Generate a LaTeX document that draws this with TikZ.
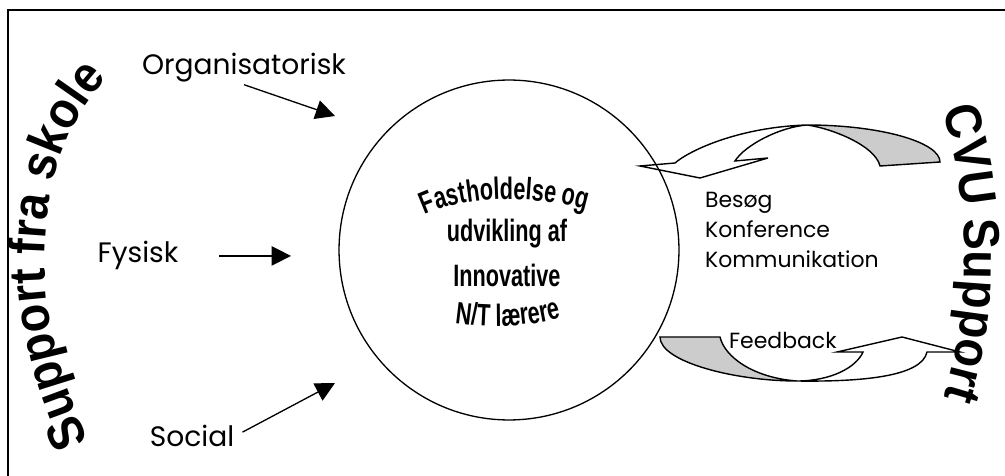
\documentclass[tikz,border=0pt]{standalone}
\usepackage{fontspec}
\setmainfont{Poppins}
\newfontfamily\arialfam[FakeStretch=0.92]{Liberation Sans}
\newfontfamily\narrowfam[FakeStretch=0.7]{Liberation Sans}
\usetikzlibrary{arrows.meta}
\usetikzlibrary{decorations.text}
\definecolor{ribbongrey}{RGB}{204,204,204}
\newcommand{\archfont}{\arialfam\bfseries\fontsize{29}{34}\selectfont}
\newcommand{\warpfont}{\narrowfam\bfseries\fontsize{17.6}{21}\selectfont}
\tikzset{
	labelstyle/.style={font=\fontsize{16}{19}\selectfont, inner sep=1pt},
	smalllabel/.style={font=\fontsize{12.5}{15}\selectfont, inner sep=1pt},
	corestyle/.style={circle, draw=black, line width=0.75pt, minimum size=6.8cm},
	innerline/.style={font=\warpfont, inner sep=0pt},
	pusharrow/.style={-{Triangle[length=11pt,width=11pt]}, line width=0.75pt},
	ribbon/.style={draw=black, line width=0.8pt, line join=miter}
}

\begin{document}
\begin{tikzpicture}[x=0.02cm, y=-0.02cm]
		\useasboundingbox (0,0) rectangle (1005,476);
		\draw[line width=0.7pt] (8,476) -- (8,10) -- (1005,10);
		% curved support texts
		\path[decorate, decoration={text along path, text align=left,
			text={|\archfont|Support fra skole}}]
			(89,441) .. controls (55,365) and (42,305) .. (45,246) .. controls (48,166) and (72,110) .. (120,66);
		\path[decorate, decoration={text along path, text align=left,
			text={|\archfont|CVU Support}}]
			(942,110) .. controls (974,210) and (974,330) .. (930,434);
		% upper ribbon
		\filldraw[ribbon, fill=ribbongrey] (807,125) .. controls (880,125) and (940,142) .. (940,162)
			-- (880,166) .. controls (875,145) and (830,128) .. (807,125) -- cycle;
		\filldraw[ribbon, fill=white] (675,163) .. controls (690,150) and (740,127) .. (807,125)
			.. controls (780,127) and (745,145) .. (735,161) -- (768,158) -- (700,178) -- (640,166) -- cycle;
		% lower ribbon
		\filldraw[ribbon, fill=ribbongrey] (660,337) -- (720,337) .. controls (725,358) and (755,378) .. (797,381)
			.. controls (735,381) and (660,362) .. (660,337) -- cycle;
		\filldraw[ribbon, fill=white] (797,381) .. controls (870,382) and (922,375) .. (927,352)
			-- (960,352) -- (902,337) -- (837,352) -- (863,352)
			.. controls (856,368) and (830,381) .. (797,381) -- cycle;
		% centre
		\node[corestyle] (core) at (509,250) {};
		\path[decorate, decoration={text along path, text align=left,
			text={|\warpfont|Fastholdelse og}}]
			(425,215) .. controls (470,194) and (540,194) .. (600,214);
		\node[innerline, anchor=base] (udv) at (507,242) {udvikling af};
		\node[innerline, anchor=base] (innov) at (507,287) {Innovative};
		\path[decorate, decoration={text along path, text align=left,
			text={|\warpfont|N/T lærere}}]
			(455,323) .. controls (490,328) and (530,328) .. (575,314);
		% school side
		\node[labelstyle, anchor=base] (org) at (244,75) {Organisatorisk};
		\node[labelstyle, anchor=base] (fys) at (138,263) {Fysisk};
		\node[labelstyle, anchor=base] (soc) at (192,446) {Social};
		\coordinate (orgtip) at (335,116);
		\coordinate (fystip) at (291,255);
		\coordinate (soctip) at (335,383);
		\draw[pusharrow] (org.south) -- (orgtip);
		\draw[pusharrow, shorten <=22pt] (fys.east) -- (fys.east -| fystip);
		\draw[pusharrow, shorten <=4pt] (soc.east) -- (soctip);
		% CVU side
		\node[smalllabel, anchor=base west] (besog) at (703,208) {Besøg};
		\node[smalllabel, anchor=base west] (konf) at (703,238) {Konference};
		\node[smalllabel, anchor=base west] (komm) at (703,268) {Kommunikation};
		\node[smalllabel, anchor=base west] (feedback) at (727,349) {Feedback};
\end{tikzpicture}
\end{document}
